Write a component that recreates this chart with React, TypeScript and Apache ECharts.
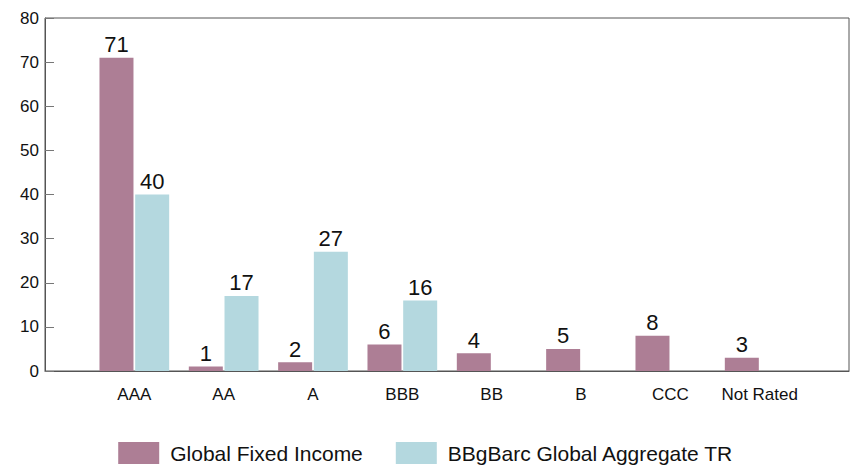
import React, { useEffect, useRef } from "react";
import * as echarts from "echarts";

const categories = ["", "AAA", "AA", "A", "BBB", "BB", "B", "CCC", "Not Rated", ""];
const globalFixedIncome = [null, 71, 1, 2, 6, 4, 5, 8, 3, null];
const bbgBarcAggregate = [null, 40, 17, 27, 16, null, null, null, null, null];
const seriesNames = ["Global Fixed Income", "BBgBarc Global Aggregate TR"];
const colors = ["#AD7E95", "#B4D8DF"];

export default function App() {
  const ref = useRef<HTMLDivElement>(null);
  useEffect(() => {
    if (!ref.current) return;
    const chart = echarts.init(ref.current, null, { renderer: "svg" });
    const font = "'Liberation Sans', Arial, sans-serif";
    const labelCfg = {
      show: true,
      position: "top" as const,
      distance: 2,
      color: "#111",
      fontSize: 22,
      fontFamily: font,
    };
    chart.setOption({
      animation: false,
      backgroundColor: "#fff",
      grid: {
        left: 45,
        right: 1,
        top: 18,
        bottom: 99,
        show: true,
        borderColor: "#555",
        borderWidth: 1,
        containLabel: false,
      },
      legend: {
        bottom: 1,
        left: "center",
        icon: "rect",
        itemWidth: 41,
        itemHeight: 22,
        itemGap: 33,
        textStyle: { fontSize: 21, color: "#111", fontFamily: font, padding: [0, 0, 0, 6] },
        data: seriesNames,
      },
      xAxis: {
        type: "category",
        data: categories,
        boundaryGap: false,
        axisLine: { show: true, lineStyle: { color: "#555" } },
        axisTick: { show: false },
        axisLabel: { interval: 0, fontSize: 17, color: "#111", fontFamily: font, margin: 15 },
        splitLine: { show: false },
      },
      yAxis: {
        type: "value",
        min: 0,
        max: 80,
        interval: 10,
        axisLine: { show: true, lineStyle: { color: "#555" } },
        axisTick: { show: true, inside: true, length: 9, lineStyle: { color: "#777" } },
        axisLabel: { fontSize: 17, color: "#111", fontFamily: font, margin: 6 },
        splitLine: { show: false },
      },
      series: [
        {
          name: seriesNames[0],
          type: "bar",
          data: globalFixedIncome,
          barWidth: 34,
          barGap: "5%",
          itemStyle: { color: colors[0] },
          label: labelCfg,
        },
        {
          name: seriesNames[1],
          type: "bar",
          data: bbgBarcAggregate,
          barWidth: 34,
          barGap: "5%",
          itemStyle: { color: colors[1] },
          label: labelCfg,
        },
      ],
    });
    return () => chart.dispose();
  }, []);
  return <div ref={ref} style={{ width: 852, height: 470, position: "absolute", left: 0, top: 0 }} />;
}
